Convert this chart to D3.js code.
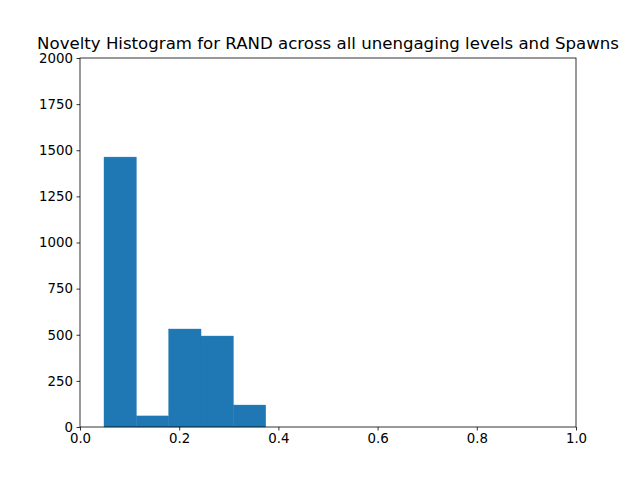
<!DOCTYPE html>
<html><head><meta charset="utf-8">
<script src="https://cdn.jsdelivr.net/npm/d3@7"></script>
<style>body{margin:0;background:#fff}</style>
</head><body>
<script>
const binEdges = [0.0484, 0.1136, 0.1788, 0.2440, 0.3092, 0.3744];
const counts = [1463, 60, 531, 493, 119];
const xTicks = [0, 0.2, 0.4, 0.6, 0.8, 1.0];
const yTicks = [0, 250, 500, 750, 1000, 1250, 1500, 1750, 2000];
const title = "Novelty Histogram for RAND across all unengaging levels and Spawns";

const W = 640, H = 480;
const m = {l: 80, r: 64, t: 58, b: 53};
const svg = d3.select("body").append("svg").attr("width", W).attr("height", H)
  .style("font-family", "DejaVu Sans");
const x = d3.scaleLinear().domain([0, 1]).range([m.l, W - m.r]);
const y = d3.scaleLinear().domain([0, 2000]).range([H - m.b, m.t]);

const bins = counts.map((c, i) => ({x0: binEdges[i], x1: binEdges[i + 1], c}));
svg.append("g").selectAll("rect").data(bins).join("rect")
  .attr("x", d => x(d.x0)).attr("width", d => x(d.x1) - x(d.x0))
  .attr("y", d => y(d.c)).attr("height", d => y(0) - y(d.c))
  .attr("fill", "#1f77b4").attr("stroke", "#1f77b4").attr("stroke-width", 0.4);

const xa = svg.append("g").attr("transform", `translate(0,${H - m.b})`)
  .call(d3.axisBottom(x).tickValues(xTicks).tickFormat(d3.format(".1f")).tickSizeOuter(0).tickSize(3.5).tickPadding(3.5));
const ya = svg.append("g").attr("transform", `translate(${m.l},0)`)
  .call(d3.axisLeft(y).tickValues(yTicks).tickFormat(d3.format("d")).tickSizeOuter(0).tickSize(3.5).tickPadding(3.5));
[xa, ya].forEach(a => {
  a.selectAll("text").attr("font-size", "13.33px").attr("font-family", "DejaVu Sans").attr("fill", "#000");
  a.selectAll("line").attr("stroke", "#000").attr("stroke-width", 0.8);
  a.select(".domain").remove();
});
svg.append("rect").attr("x", m.l).attr("y", m.t)
  .attr("width", W - m.r - m.l).attr("height", H - m.b - m.t)
  .attr("fill", "none").attr("stroke", "#000").attr("stroke-width", 0.8);

svg.append("text").attr("x", (m.l + W - m.r) / 2).attr("y", m.t - 9.5)
  .attr("text-anchor", "middle").attr("font-size", "16.6px").attr("fill", "#000").text(title);
</script>
</body></html>
